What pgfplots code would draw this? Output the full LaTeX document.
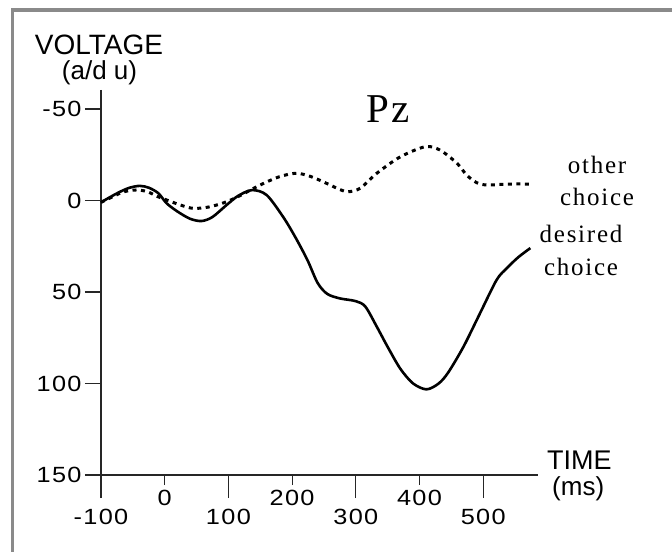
\documentclass[border=0pt]{standalone}
\usepackage{fontspec}
\setmainfont{Liberation Serif}
\newfontfamily\tickfont[FakeStretch=1.15,LetterSpace=6]{Liberation Sans}
\newfontfamily\labfont{Liberation Sans}
\newfontfamily\serifsp[LetterSpace=7]{Liberation Serif}
\usepackage{pgfplots}
\pgfplotsset{compat=1.18}
\definecolor{framegray}{HTML}{8A8A8A}
\begin{document}
\begin{tikzpicture}[x=1bp,y=1bp]
\useasboundingbox (0,0) rectangle (672,552);
\draw[line width=3.2bp, framegray] (12.5,0) -- (12.5,542) -- (672,542);
\begin{axis}[
  at={(101bp,77bp)}, anchor=south west,
  scale only axis, width=437bp, height=385bp,
  xmin=-100, xmax=586, ymin=-60.4, ymax=150,
  y dir=reverse,
  axis x line=bottom, axis y line=left,
  axis line style={-, line width=1.2bp, black!85},
  tick style={line width=1.2bp, black!85},
  tick align=outside,
  xtick={0,200,400}, xticklabels={0,200,400},
  xticklabel style={yshift=-2bp},
  extra x ticks={-100,100,300,500},
  extra x tick labels={-100,100,300,500},
  major tick length=10bp,
  extra x tick style={major tick length=23bp, xticklabel style={yshift=-6bp}},
  ytick=\empty,
  extra y ticks={-50,0,50,100,150}, extra y tick labels={-50,0,50,100,150},
  extra y tick style={major tick length=16bp},
  ticklabel style={font=\tickfont\fontsize{22bp}{24bp}\selectfont},
  clip=false,
]
\addplot[black, line width=2.6bp, smooth] coordinates {
(-100,1) (-85,-2) (-70,-4.8) (-55,-7) (-39,-8) (-25,-7) (-10,-4) (3,1.5) (20,6) (40,10) (58,11.2) (75,9) (97,2.5) (115,-2.5) (137,-5.7) (160,-3) (186,9) (205,20) (224,32.5) (240,45) (255,51) (275,53.5) (300,55) (315,58) (333,69) (350,80) (370,92) (390,100) (411,103.2) (430,100) (445,94) (469,79.9) (495,61.6) (521,43.4) (537,37) (555,31) (574,26)
};
\addplot[black, line width=3bp, dash pattern=on 4bp off 4.5bp, smooth] coordinates {
(-100,1) (-85,-1.5) (-70,-4) (-55,-5.5) (-39,-5.7) (-25,-4.5) (-10,-2) (3,-0.3) (25,2.5) (45,4.3) (70,3.5) (97,0.7) (120,-3) (150,-8.5) (180,-13) (207,-14.9) (230,-13) (254,-9.4) (275,-6) (288,-4.8) (307,-6.7) (333,-14.9) (370,-23.9) (409,-29.4) (432,-27.6) (459,-20.3) (474,-13.9) (490,-9.7) (506,-8.5) (540,-9) (574,-9)
};
\end{axis}
\node[anchor=base, inner sep=0pt, font=\labfont\fontsize{28bp}{30bp}\selectfont] at (99,497) {VOLTAGE};
\node[anchor=base, inner sep=0pt, font=\labfont\fontsize{26bp}{30bp}\selectfont] at (99.5,472) {(a/d u)};
\node[anchor=base west, inner sep=0pt, font=\labfont\fontsize{27bp}{30bp}\selectfont] at (547,82) {TIME};
\node[anchor=base west, inner sep=0pt, font=\labfont\fontsize{26bp}{30bp}\selectfont] at (552,56) {(ms)};
\node[anchor=base, inner sep=0pt, font=\serifsp\fontsize{41bp}{44bp}\selectfont] at (388,429) {Pz};
\node[anchor=base, inner sep=0pt, font=\serifsp\fontsize{25bp}{28bp}\selectfont] at (597,378) {other};
\node[anchor=base, inner sep=0pt, font=\serifsp\fontsize{25bp}{28bp}\selectfont] at (597,346) {choice};
\node[anchor=base, inner sep=0pt, font=\serifsp\fontsize{25bp}{28bp}\selectfont] at (581,309) {desired};
\node[anchor=base, inner sep=0pt, font=\serifsp\fontsize{25bp}{28bp}\selectfont] at (581,276) {choice};
\end{tikzpicture}
\end{document}
